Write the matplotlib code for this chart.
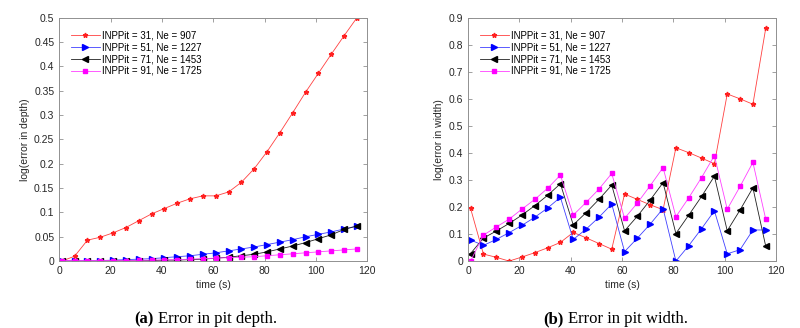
import matplotlib
matplotlib.use("Agg")
import matplotlib.pyplot as plt

plt.rcParams['font.family'] = ['Liberation Sans', 'DejaVu Sans']

time_s = [1, 6, 11, 16, 21, 26, 31, 36, 41, 46, 51, 56, 61, 66, 71, 76,
          81, 86, 91, 96, 101, 106, 111, 116]

labels = ["INPPit = 31, Ne = 907", "INPPit = 51, Ne = 1227",
          "INPPit = 71, Ne = 1453", "INPPit = 91, Ne = 1725"]

depth_31 = [0.0, 0.010, 0.043, 0.049, 0.058, 0.069, 0.083, 0.097, 0.108, 0.119,
            0.128, 0.134, 0.134, 0.142, 0.162, 0.190, 0.225, 0.264, 0.305, 0.347,
            0.386, 0.425, 0.463, 0.500]
depth_51 = [0.001, 0.001, 0.001, 0.001, 0.002, 0.003, 0.004, 0.005, 0.007, 0.009,
            0.011, 0.014, 0.017, 0.021, 0.025, 0.029, 0.034, 0.039, 0.044, 0.050,
            0.055, 0.060, 0.066, 0.072]
depth_71 = [0.0, 0.0, 0.0, 0.0, 0.001, 0.001, 0.001, 0.001, 0.002, 0.002,
            0.003, 0.004, 0.006, 0.008, 0.011, 0.014, 0.019, 0.025, 0.031, 0.038,
            0.046, 0.054, 0.065, 0.072]
depth_91 = [0.001, 0.001, 0.001, 0.001, 0.001, 0.001, 0.0015, 0.002, 0.0025, 0.003,
            0.004, 0.005, 0.006, 0.007, 0.008, 0.009, 0.011, 0.013, 0.015, 0.017,
            0.019, 0.021, 0.023, 0.025]

width_31 = [0.195, 0.026, 0.014, 0.0, 0.015, 0.031, 0.049, 0.069, 0.106, 0.086,
            0.065, 0.044, 0.248, 0.228, 0.208, 0.190, 0.419, 0.401, 0.381, 0.360,
            0.618, 0.600, 0.580, 0.861]
width_51 = [0.078, 0.058, 0.080, 0.105, 0.132, 0.162, 0.196, 0.236, 0.080, 0.118,
            0.162, 0.211, 0.035, 0.085, 0.137, 0.194, 0.0, 0.057, 0.120, 0.186,
            0.027, 0.042, 0.115, 0.115]
width_71 = [0.028, 0.085, 0.111, 0.139, 0.170, 0.205, 0.243, 0.286, 0.134, 0.179,
            0.228, 0.281, 0.112, 0.166, 0.226, 0.290, 0.102, 0.170, 0.239, 0.314,
            0.112, 0.189, 0.271, 0.055]
width_91 = [0.0, 0.096, 0.126, 0.155, 0.192, 0.228, 0.269, 0.318, 0.170, 0.217,
            0.266, 0.324, 0.158, 0.215, 0.279, 0.346, 0.164, 0.234, 0.309, 0.390,
            0.192, 0.276, 0.365, 0.155]

colors = ['#ff2020', '#0000ff', '#000000', '#ff00ff']
line_colors = ['#ff4040', '#4040ff', '#202020', '#ff40ff']
markers = ['*', '>', '<', 's']
msizes = [3.5, 4.5, 4.5, 3.5]

fig = plt.figure(figsize=(8.0, 3.28), dpi=100)
axA = fig.add_axes([0.074, 0.204, 0.385, 0.742])
axB = fig.add_axes([0.585, 0.204, 0.385, 0.742])

def draw(ax, series, ymax, ystep, ylabel):
    for vals, c, lc, m, ms, lab in zip(series, colors, line_colors, markers, msizes, labels):
        ax.plot(time_s, vals, color=lc, linewidth=0.6, marker=m, markersize=ms,
                markerfacecolor=c, markeredgecolor=c, label=lab)
    ax.set_xlim(0, 120)
    ax.set_ylim(0, ymax)
    ax.set_xticks(range(0, 121, 20))
    n = int(round(ymax / ystep))
    ticks = [round(i * ystep, 2) for i in range(n + 1)]
    ax.set_yticks(ticks)
    ax.set_yticklabels([('%g' % t) for t in ticks])
    ax.tick_params(direction='in', top=True, right=True, labelsize=7.5,
                   length=3, width=0.6, color='#909090', labelcolor='#262626')
    for s in ax.spines.values():
        s.set_color('#909090')
        s.set_linewidth(0.7)
    ax.set_xlabel('time (s)', fontsize=7.5, color='#262626', labelpad=3)
    ax.set_ylabel(ylabel, fontsize=7.5, color='#262626', labelpad=3)
    ax.legend(loc='upper left', frameon=False, fontsize=7,
              handlelength=3.0, handletextpad=0.25, labelspacing=0.2,
              borderaxespad=0.0, bbox_to_anchor=(0.025, 0.965))

draw(axA, [depth_31, depth_51, depth_71, depth_91], 0.5, 0.05, 'log(error in depth)')
draw(axB, [width_31, width_51, width_71, width_91], 0.9, 0.1, 'log(error in width)')

cap_font = ['Liberation Serif', 'DejaVu Serif']
cap_y = 0.015
fig.text(0.192, cap_y, '(a)', fontsize=12, family=cap_font, weight='bold',
         ha='right', va='baseline')
fig.text(0.197, cap_y, 'Error in pit depth.', fontsize=12, family=cap_font,
         ha='left', va='baseline')
fig.text(0.705, cap_y, '(b)', fontsize=12, family=cap_font, weight='bold',
         ha='right', va='baseline')
fig.text(0.710, cap_y, 'Error in pit width.', fontsize=12, family=cap_font,
         ha='left', va='baseline')

fig.savefig('out.png', dpi=100)
